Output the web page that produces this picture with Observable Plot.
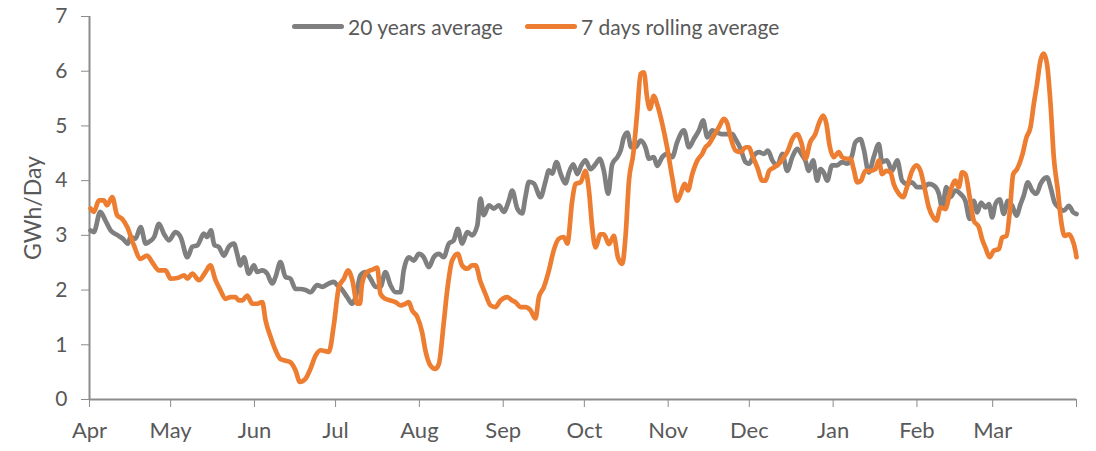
<!DOCTYPE html>
<html>
<head>
<meta charset="utf-8">
<script src="https://cdn.jsdelivr.net/npm/d3@7"></script>
<script src="https://cdn.jsdelivr.net/npm/@observablehq/plot@0.6"></script>
<style>
  html, body { margin: 0; padding: 0; background: #fff; }
  #wrap { position: relative; width: 1096px; height: 451px; font-family: Lato, "Open Sans", sans-serif; }
  #legend { position: absolute; top: 13px; left: 0; width: 1096px; height: 26px; color: #595959; font-size: 21px; }
  .item { position: absolute; display: flex; align-items: center; height: 26px; white-space: nowrap; }
  .sw { display: inline-block; width: 52px; height: 5px; border-radius: 3px; margin-right: 4px; }
</style>
</head>
<body>
<div id="wrap"><div id="chart"></div><div id="legend"></div></div>
<script>
// Month ticks (day index from 1 April) and labels
const monthTicks = [0, 30, 61, 91, 122, 153, 183, 214, 244, 275, 306, 334, 365];
const monthLabels = ["Apr", "May", "Jun", "Jul", "Aug", "Sep", "Oct", "Nov", "Dec", "Jan", "Feb", "Mar", ""];
const yTicks = [0, 1, 2, 3, 4, 5, 6, 7];

const seriesNames = ["20 years average", "7 days rolling average"];
const seriesColors = ["#7f7f7f", "#ed7d31"];

// 20 years average
const grayDay = [0.4,1.6,4.0,5.9,7.8,10.5,12.3,14.2,15.2,17.0,18.9,20.8,22.0,23.9,25.7,27.5,29.4,31.8,33.7,36.2,38.0,39.9,42.3,43.5,44.9,46.2,47.8,49.7,51.5,53.4,54.6,55.8,57.1,58.9,60.8,62.0,63.9,65.7,67.6,68.8,70.6,72.5,74.3,76.2,78.0,79.9,81.7,84.2,86.0,88.5,90.4,91.6,93.5,95.3,97.2,98.4,100.2,102.1,103.9,105.8,107.6,109.4,111.3,113.2,115.0,116.2,118.1,119.9,121.8,123.6,125.5,127.3,129.2,131.0,132.9,134.7,136.2,137.8,139.7,141.5,143.4,144.6,145.8,147.7,149.5,151.4,153.2,155.1,156.3,158.2,160.0,161.2,162.5,164.3,166.8,168.6,169.9,171.1,172.7,174.2,176.0,177.3,178.9,180.4,181.8,183.4,185.3,187.1,188.7,190.2,191.8,193.3,195.2,196.4,197.6,198.9,200.3,201.9,203.8,205.6,206.9,208.7,209.9,211.8,213.6,215.5,217.3,219.8,221.7,223.5,225.4,226.9,228.5,230.3,232.2,234.0,235.9,237.7,238.9,240.8,242.6,243.9,245.7,247.6,249.4,250.9,252.5,254.4,256.2,258.0,259.9,261.7,263.6,264.7,266.0,267.6,269.1,270.3,271.5,272.8,274.6,276.5,278.3,280.2,282.0,283.2,285.1,286.3,288.2,290.0,291.9,293.1,294.9,296.8,298.7,300.5,302.3,304.2,306.0,308.5,310.4,312.2,314.1,315.3,316.9,318.4,320.2,322.1,323.9,325.5,327.0,328.3,329.7,331.3,332.6,333.8,335.0,336.6,338.1,339.6,341.2,342.8,344.3,345.5,347.0,348.6,350.2,351.7,352.9,354.1,355.4,356.9,358.5,360.3,362.2,363.8,365];
const grayValue = [3.09,3.06,3.43,3.27,3.09,3.00,2.94,2.85,2.97,2.94,3.15,2.85,2.88,2.97,3.21,3.03,2.91,3.06,2.97,2.60,2.79,2.82,3.03,2.97,3.09,2.82,2.79,2.63,2.79,2.85,2.66,2.45,2.60,2.30,2.45,2.33,2.36,2.30,2.12,2.24,2.51,2.24,2.21,2.02,2.02,2.00,1.96,2.09,2.06,2.12,2.15,2.09,2.00,1.87,1.75,1.87,2.27,2.33,2.21,2.06,2.06,2.33,2.09,1.96,1.96,2.36,2.60,2.54,2.66,2.60,2.42,2.60,2.66,2.60,2.85,2.91,3.12,2.85,3.06,3.00,3.18,3.67,3.37,3.55,3.49,3.55,3.43,3.64,3.82,3.49,3.40,3.70,3.98,3.95,3.70,3.98,4.19,4.13,4.34,4.13,3.95,4.15,4.30,4.12,4.27,4.37,4.21,4.30,4.40,4.18,3.76,4.30,4.43,4.55,4.79,4.88,4.61,4.61,4.73,4.61,4.40,4.43,4.27,4.43,4.49,4.43,4.70,4.92,4.61,4.76,4.92,5.10,4.79,4.92,4.88,4.85,4.85,4.85,4.76,4.58,4.34,4.31,4.46,4.52,4.49,4.55,4.37,4.28,4.49,4.18,4.43,4.58,4.46,4.37,4.18,4.37,4.00,4.21,4.15,4.00,4.28,4.28,4.34,4.31,4.46,4.70,4.76,4.58,4.15,4.43,4.67,4.34,4.37,4.18,4.37,4.00,3.94,3.97,3.88,3.88,3.94,3.91,3.76,3.51,3.88,3.70,3.82,3.76,3.63,3.30,3.63,3.42,3.60,3.51,3.57,3.33,3.57,3.66,3.39,3.63,3.54,3.36,3.57,3.73,3.97,3.82,3.76,3.94,4.03,4.06,3.88,3.60,3.51,3.45,3.54,3.42,3.39];

// 7 days rolling average
const orangeDay = [0.4,1.6,3.5,5.3,6.5,8.4,10.2,12.1,14.0,16.4,18.9,21.3,23.2,25.7,28.1,30.0,32.5,35.0,36.2,38.0,40.5,42.9,44.7,46.6,48.4,50.3,52.1,54.0,55.2,56.5,58.3,60.2,62.0,63.9,65.1,67.0,68.8,70.6,72.5,74.3,76.2,77.8,79.9,81.7,83.6,85.4,88.5,90.4,92.2,94.1,95.6,97.2,99.0,100.0,100.8,102.7,104.5,106.4,107.6,109.4,111.3,113.2,115.0,116.9,118.1,119.3,121.2,123.0,124.2,126.1,127.9,129.2,131.0,132.3,134.1,136.2,137.8,139.7,141.5,142.8,144.6,146.4,148.3,150.1,152.0,154.5,156.3,157.5,159.4,161.2,163.1,164.9,166.2,168.0,169.9,171.7,173.6,175.4,176.7,178.5,179.7,181.6,183.4,184.7,185.9,187.1,189.0,190.2,192.1,193.9,195.4,197.0,198.2,199.5,201.1,202.6,203.8,205.0,206.2,207.2,208.7,209.9,211.8,213.6,215.5,217.3,218.6,220.1,221.3,222.9,224.8,226.6,227.8,229.1,230.9,232.8,234.6,235.9,237.1,238.9,240.8,242.6,243.9,245.1,247.0,248.8,250.0,251.3,253.1,255.0,256.8,258.3,259.9,261.7,263.2,264.8,266.5,268.4,269.7,271.3,272.5,273.7,275.2,277.1,278.3,280.2,281.4,282.6,283.9,285.3,286.9,288.8,290.6,291.9,293.1,294.7,296.2,297.4,299.3,300.9,302.3,304.2,305.8,307.3,308.5,310.4,312.0,313.2,314.7,316.5,318.4,320.2,321.5,322.7,323.9,325.5,327.0,328.9,330.1,331.3,332.9,334.4,336.3,337.5,339.1,340.3,341.6,343.0,344.9,346.5,348.0,349.2,350.4,351.7,352.9,354.1,355.4,356.6,358.1,359.3,360.6,362.2,363.4,364.6,365];
const orangeValue = [3.49,3.43,3.64,3.64,3.55,3.70,3.37,3.30,3.15,2.82,2.57,2.63,2.51,2.36,2.36,2.21,2.22,2.27,2.21,2.30,2.18,2.33,2.45,2.18,2.00,1.84,1.87,1.87,1.81,1.81,1.90,1.75,1.75,1.78,1.45,1.14,0.90,0.74,0.71,0.68,0.53,0.32,0.38,0.56,0.80,0.90,0.87,1.38,2.05,2.21,2.36,2.18,1.75,1.75,2.12,2.33,2.37,2.41,1.93,1.84,1.81,1.78,1.72,1.75,1.78,1.63,1.51,1.23,0.90,0.62,0.56,0.65,1.40,2.00,2.54,2.66,2.45,2.39,2.45,2.45,2.15,1.93,1.72,1.69,1.81,1.87,1.81,1.78,1.69,1.69,1.63,1.48,1.87,2.05,2.36,2.73,2.94,2.97,2.85,3.63,3.94,3.97,4.18,3.82,3.15,2.78,3.02,3.02,2.84,2.99,2.60,2.48,2.96,4.00,4.49,5.28,5.95,5.98,5.52,5.31,5.55,5.40,5.04,4.61,4.06,3.63,3.76,3.94,3.82,4.12,4.37,4.49,4.61,4.67,4.82,4.98,5.13,5.04,4.79,4.55,4.52,4.61,4.61,4.46,4.24,4.00,4.00,4.18,4.24,4.31,4.43,4.55,4.76,4.85,4.70,4.40,4.70,4.85,5.04,5.19,5.04,4.64,4.43,4.52,4.43,4.40,4.40,4.21,3.97,4.00,4.18,4.18,4.21,4.37,4.12,4.18,4.15,3.94,3.76,3.70,3.88,4.18,4.28,4.18,3.94,3.51,3.33,3.27,3.51,3.48,3.82,4.00,3.88,4.15,4.12,3.70,3.27,3.15,2.93,2.78,2.60,2.72,2.75,2.96,2.99,3.42,4.12,4.21,4.46,4.79,4.98,5.40,5.77,6.20,6.32,6.13,5.40,4.43,3.82,3.27,2.99,3.02,2.93,2.72,2.60];

const grayRows = grayDay.map((d, i) => ({day: d, value: grayValue[i]}));
const orangeRows = orangeDay.map((d, i) => ({day: d, value: orangeValue[i]}));

const axisGray = "#8c8c8c";
const chart = Plot.plot({
  width: 1096,
  height: 451,
  marginLeft: 89,
  marginRight: 20,
  marginTop: 16,
  marginBottom: 52,
  style: {fontFamily: "Lato, 'Open Sans', sans-serif", fontSize: "21px", color: "#595959", background: "#fff"},
  x: {domain: [0, 365]},
  y: {domain: [0, 7]},
  marks: [
    Plot.axisY({ticks: yTicks, tickFormat: d3.format("d"), tickSize: 8, tickPadding: 14, stroke: axisGray, label: null, fontSize: 21}),
    Plot.axisY({ticks: [], tickSize: 0, label: "GWh/Day", labelAnchor: "center", labelArrow: "none", labelOffset: 65, fontSize: 23}),
    Plot.axisX({ticks: monthTicks, tickFormat: (d, i) => monthLabels[monthTicks.indexOf(d)], tickSize: 8, tickPadding: 15, stroke: axisGray, label: null, fontSize: 22}),
    Plot.ruleX([0], {stroke: axisGray, strokeWidth: 2}),
    Plot.ruleY([0], {stroke: axisGray, strokeWidth: 2}),
    Plot.line(grayRows, {x: "day", y: "value", stroke: seriesColors[0], strokeWidth: 4.7, curve: "monotone-x", strokeLinejoin: "round", strokeLinecap: "round"}),
    Plot.line(orangeRows, {x: "day", y: "value", stroke: seriesColors[1], strokeWidth: 4.7, curve: "monotone-x", strokeLinejoin: "round", strokeLinecap: "round"})
  ]
});
document.getElementById("chart").appendChild(chart);

// legend
const legend = document.getElementById("legend");
const legendLeft = [292, 525];
seriesNames.forEach((name, i) => {
  const item = document.createElement("div");
  item.className = "item";
  item.style.left = legendLeft[i] + "px";
  const sw = document.createElement("span");
  sw.className = "sw";
  sw.style.background = seriesColors[i];
  const t = document.createElement("span");
  t.textContent = name;
  item.appendChild(sw);
  item.appendChild(t);
  legend.appendChild(item);
});
</script>
</body>
</html>
